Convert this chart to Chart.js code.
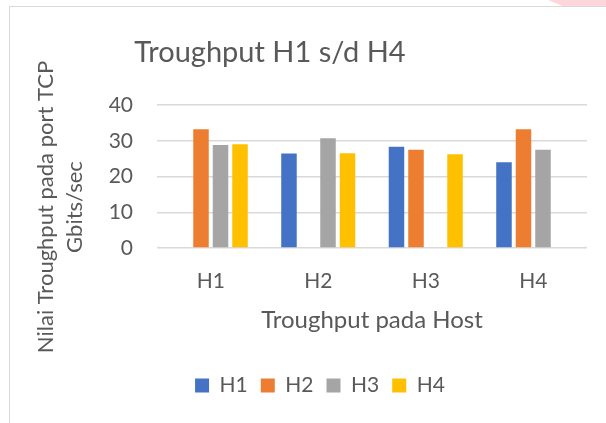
<!DOCTYPE html>
<html>
<head>
<meta charset="utf-8">
<script src="https://cdn.jsdelivr.net/npm/chart.js"></script>
<style>
body{margin:0;background:#fff;}
#wrap{position:relative;width:606px;height:423px;overflow:hidden;background:#fff;}
#frame{position:absolute;left:9px;top:6px;width:620px;height:440px;border-left:1.5px solid #d9d9d9;border-top:1.5px solid #d9d9d9;}
#corner{position:absolute;left:548px;top:0;width:58px;height:6px;background:#ffd6dc;clip-path:polygon(0 0,100% 0,100% 100%,25% 100%);}
canvas{position:absolute;left:0;top:0;}
</style>
</head>
<body>
<div id="wrap">
<div id="corner"></div>
<div id="frame"></div>
<canvas id="myChart" width="606" height="423"></canvas>
</div>
<script>
var categories=['H1','H2','H3','H4'];
var seriesNames=['H1','H2','H3','H4'];
var h1Values=[null,26.4,28.3,24.0];
var h2Values=[33.2,null,27.5,33.2];
var h3Values=[28.8,30.7,null,27.5];
var h4Values=[29.0,26.5,26.2,null];
var yTicks=[0,10,20,30,40];

var chartTitle='Troughput H1 s/d H4';
var yTitle=['Nilai Troughput pada port TCP','Gbits/sec'];
var xTitle='Troughput pada Host';

var colors=['#4472c4','#ed7d31','#a5a5a5','#ffc000'];
var textcolor='#595959';
var fontname='Lato, "Open Sans", sans-serif';

var allValues=[h1Values,h2Values,h3Values,h4Values];
var datasets=[];
for(var ia=0; ia<seriesNames.length; ia++){
	datasets.push({
		label:seriesNames[ia],
		data:allValues[ia],
		backgroundColor:colors[ia],
		borderWidth:0,
		categoryPercentage:0.726,
		barPercentage:0.795
	});
}

// title and y-axis title are drawn by hand, Excel puts them off-centre
var textPlugin={
	id:'texts',
	afterDraw:function(chart){
		var c=chart.ctx;
		c.save();
		c.fillStyle=textcolor;
		c.textAlign='center';
		c.textBaseline='alphabetic';
		c.font='29px '+fontname;
		c.fillText(chartTitle,270,62);

		c.font='22px '+fontname;
		c.translate(53,207);
		c.rotate(-Math.PI/2);
		c.fillText(yTitle[0],0,0);
		c.fillText(yTitle[1],0,29);
		c.restore();
	}
};

var ctx=document.getElementById('myChart').getContext('2d');
var myChart=new Chart(ctx,{
	type:'bar',
	data:{
		labels:categories,
		datasets:datasets
	},
	options:{
		responsive:false,
		animation:false,
		layout:{
			padding:{left:53,right:19,top:105,bottom:17}
		},
		plugins:{
			title:{display:false},
			tooltip:{enabled:false},
			legend:{
				display:true,
				position:'bottom',
				labels:{
					color:textcolor,
					font:{family:fontname,size:21},
					boxWidth:14,
					boxHeight:14,
					padding:13
				}
			}
		},
		scales:{
			x:{
				grid:{display:false},
				border:{display:false},
				ticks:{color:textcolor,font:{family:fontname,size:21},padding:13},
				title:{
					display:true,
					text:xTitle,
					color:textcolor,
					font:{family:fontname,size:24},
					padding:{top:4,bottom:27}
				},
				afterFit:function(scale){scale.height=114;}
			},
			y:{
				min:0,
				max:40,
				afterBuildTicks:function(scale){
					scale.ticks=yTicks.map(function(v){return {value:v};});
				},
				grid:{color:'#d9d9d9',lineWidth:1.5,drawTicks:false},
				border:{display:false},
				ticks:{color:textcolor,font:{family:fontname,size:21},padding:24},
				afterFit:function(scale){scale.width=104;}
			}
		}
	},
	plugins:[textPlugin]
});
</script>
</body>
</html>
